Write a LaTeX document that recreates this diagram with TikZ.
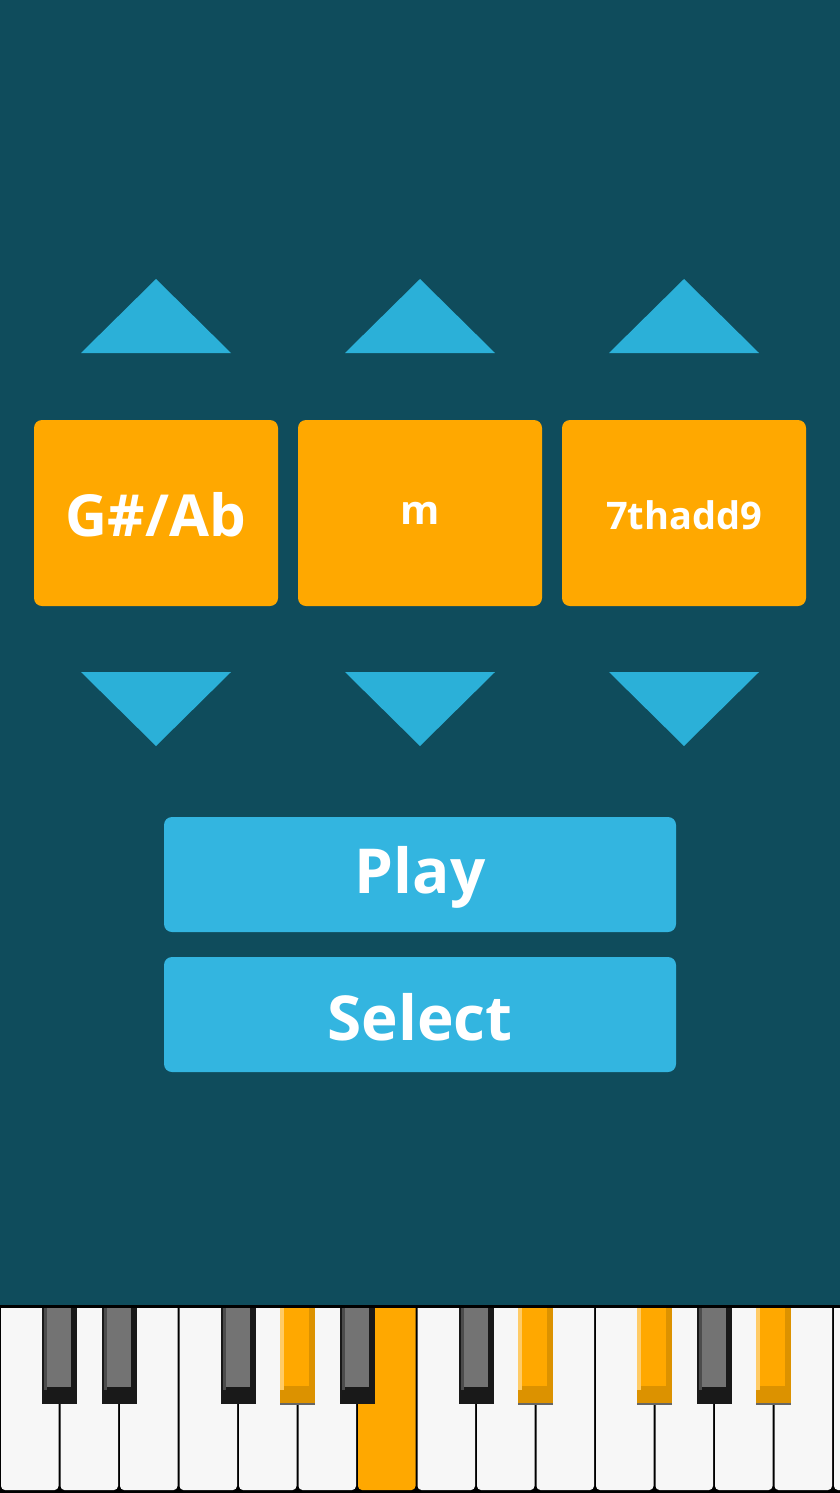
\documentclass[tikz,border=0pt]{standalone}
\usepackage{fontspec}
\setmainfont{Open Sans}
\definecolor{bg}{HTML}{0F4C5C}
\definecolor{tri}{HTML}{2BB0D8}
\definecolor{org}{HTML}{FFA800}
\definecolor{orgd}{HTML}{DC9200}
\definecolor{btn}{HTML}{33B5E0}
\definecolor{wk}{HTML}{F7F7F7}
\begin{document}
\begin{tikzpicture}[x=1pt,y=-1pt,
  chord/.style={fill=org,rounded corners=8pt},
  lbl/.style={text=white,font=\bfseries},
  btnbox/.style={fill=btn,rounded corners=8pt}]
\fill[bg] (0,0) rectangle (840,1493);
\useasboundingbox (0,0) rectangle (840,1493);
\foreach \c/\n in {156/a,420/b,684/c}{
  \fill[tri] (\c-75,353) -- (\c,279) -- (\c+75,353) -- cycle;
  \fill[tri] (\c-75,672) -- (\c,746) -- (\c+75,672) -- cycle;
}
\fill[chord] (34,420) rectangle (278,606);
\fill[chord] (298,420) rectangle (542,606);
\fill[chord] (562,420) rectangle (806,606);
\node[lbl,font=\fontsize{58}{60}\selectfont\bfseries] (r) at (156,515) {G\#/Ab};
\node[lbl,font=\fontsize{40}{42}\selectfont\bfseries] (q) at (420,513) {m};
\node[lbl,font=\fontsize{38}{40}\selectfont\bfseries] (e) at (684,515) {7thadd9};
\fill[btnbox] (164,817) rectangle (676,932);
\fill[btnbox] (164,957) rectangle (676,1072);
\node[lbl,font=\fontsize{62}{64}\selectfont\bfseries] (play) at (420,877) {Play};
\node[lbl,font=\fontsize{62}{64}\selectfont\bfseries] (sel) at (420,1017) {Select};
% piano
\fill[black] (0,1305) rectangle (840,1493);
\foreach \i in {0,...,14}{
  \pgfmathsetmacro\xa{\i*59.5+1}
  \pgfmathsetmacro\xb{\i*59.5+58.5}
  \ifnum\i=6 \fill[org,rounded corners=4pt] (\xa,1290) rectangle (\xb,1490);
  \else \fill[wk,rounded corners=4pt] (\xa,1290) rectangle (\xb,1490); \fi
}
\fill[bg] (0,1285) rectangle (840,1305);
\fill[black] (0,1305) rectangle (840,1308);
\foreach \x in {42,102,221,340,459,697}{
  \fill[black!90] (\x,1308) rectangle (\x+35,1404);
  \fill[black!55] (\x+5,1308) rectangle (\x+29,1387);
  \fill[black!70] (\x+2,1308) rectangle (\x+5,1390);
}
\foreach \x in {280,518,637,756}{
  \fill[black!60] (\x,1308) rectangle (\x+35,1405);
  \fill[orgd] (\x,1308) rectangle (\x+35,1403);
  \fill[org] (\x+4,1308) rectangle (\x+29,1386);
  \fill[org!60!white] (\x,1308) rectangle (\x+4,1390);
}
\end{tikzpicture}
\end{document}
